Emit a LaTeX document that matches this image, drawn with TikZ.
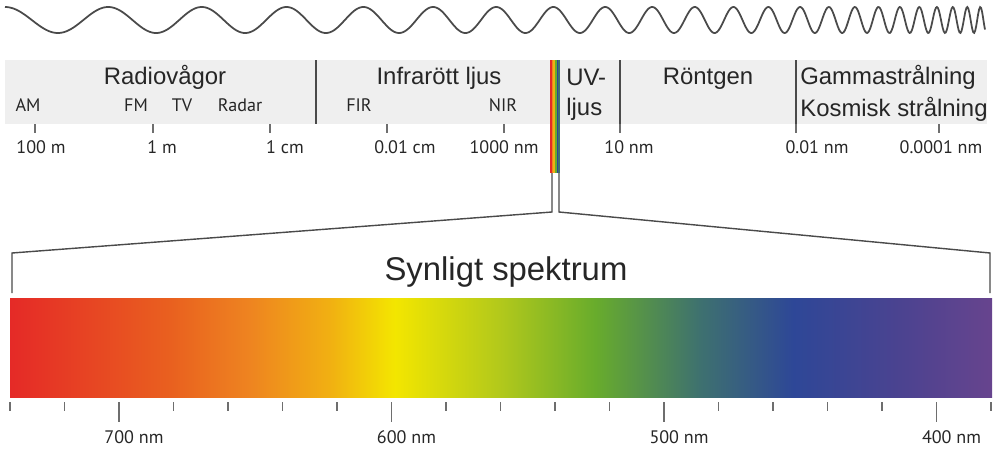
\documentclass[tikz,border=0pt]{standalone}
\usepackage{fontspec}
\setmainfont{Liberation Sans}
\newfontfamily\labelfont{PT Sans}
\usetikzlibrary{positioning}

\definecolor{bandgray}{HTML}{EFEFEF}
\definecolor{linegray}{HTML}{4A4A4A}
\definecolor{tickgray}{HTML}{6E6E6E}
\definecolor{textgray}{HTML}{262626}
\definecolor{sred}{HTML}{E52A27}
\definecolor{sredorange}{HTML}{E9601F}
\definecolor{sorange}{HTML}{EE8420}
\definecolor{samber}{HTML}{F1B012}
\definecolor{syellow}{HTML}{F3E600}
\definecolor{slime}{HTML}{B3C91B}
\definecolor{sgreen}{HTML}{68AC2C}
\definecolor{steal}{HTML}{3E716F}
\definecolor{sblue}{HTML}{2E4797}
\definecolor{sindigo}{HTML}{4B4390}
\definecolor{sviolet}{HTML}{67448E}

\pgfdeclarehorizontalshading{visible}{100bp}{color(0bp)=(sred); color(25bp)=(sred);
  color(33.15bp)=(sredorange); color(37.2bp)=(sorange); color(41.3bp)=(samber);
  color(44.6bp)=(syellow); color(49.9bp)=(slime); color(54.8bp)=(sgreen);
  color(60.1bp)=(steal); color(64.9bp)=(sblue); color(70.3bp)=(sindigo);
  color(75bp)=(sviolet); color(100bp)=(sviolet)}

\begin{document}
\begin{tikzpicture}[x=0.02cm, y=-0.02cm,
    title/.style={font=\fontsize{13.6}{15}\selectfont, text=textgray, inner sep=0pt, anchor=base},
    sub/.style={font=\labelfont\fontsize{10.3}{12}\selectfont, text=textgray, inner sep=0pt, anchor=base},
    divider/.style={draw=linegray, line width=0.8pt},
    tick/.style={draw=tickgray, line width=0.6pt},
    bigtick/.style={draw=tickgray, line width=1pt}]
  \useasboundingbox (0,0) rectangle (1000,453);

  % wave, wavelength getting shorter to the right
  \draw[linegray, line width=1pt] plot[domain=5:985, samples=1000]
    (\x, {20-13*cos(deg(63.9*ln(1102/(1107-\x))))});

  % band of the full spectrum
  \fill[bandgray] (5,60) rectangle (987,124);
  \draw[divider] (316,60) -- (316,124);
  \draw[divider] (620,60) -- (620,133);
  \draw[divider] (796,60) -- (796,133);

  \node[title] (radio) at (165,84) {Radiovågor};
  \node[title] (infra) at (439,84) {Infrarött ljus};
  \node[title, anchor=base west] (uv) at (566,85) {UV-};
  \node[title, anchor=base west] (uvljus) at (566,115) {ljus};
  \node[title] (xray) at (708,84) {Röntgen};
  \node[title, anchor=base west] (gamma) at (800,84) {Gammastrålning};
  \node[title, anchor=base west] (cosmic) at (800,116) {Kosmisk strålning};

  \node[sub] (am) at (28,111) {AM};
  \node[sub] (fm) at (136,111) {FM};
  \node[sub] (tv) at (182,111) {TV};
  \node[sub] (radar) at (240,111) {Radar};
  \node[sub] (fir) at (359,111) {FIR};
  \node[sub] (nir) at (503,111) {NIR};

  % wavelength scale
  \foreach \x/\lx/\t [count=\n] in {35/41/100 m, 153/162/1 m, 270/285/1 cm,
      387/405/0.01 cm, 504/504/1000 nm, 620/629/10 nm, 796/817/0.01 nm,
      939/941/0.0001 nm} {
    \draw[tick] (\x,124) -- (\x,133);
    \node[sub] (wl\n) at (\lx,153) {\t};
  }

  % the narrow visible part
  \foreach \c [count=\i] in {sred, sorange, samber, sgreen, sblue, steal} {
    \fill[\c] ({550+(\i-1)*10/6},60) rectangle ({550+\i*10/6},173);
  }
  \coordinate (visl) at (552,173);
  \coordinate (visr) at (559,173);
  \coordinate (neckl) at (552,212);
  \coordinate (neckr) at (559,212);
  \coordinate (bracketl) at (12,253);
  \coordinate (bracketr) at (990,253);
  \coordinate (footl) at (12,293);
  \coordinate (footr) at (990,293);
  \draw[linegray, line width=0.8pt] (visl) -- (neckl) -- (bracketl) -- (footl);
  \draw[linegray, line width=0.8pt] (visr) -- (neckr) -- (bracketr) -- (footr);

  \node[font=\fontsize{18.7}{21}\selectfont, text=textgray, inner sep=0pt, anchor=base] (synligt) at (506,280) {Synligt spektrum};

  \shade[shading=visible] (10,298) rectangle (992,397);

  \foreach \i in {0,...,18} {
    \draw[bigtick] ({10+\i*54.5},402) -- ++(0,9);
  }
  \foreach \i/\nm in {2/700, 7/600, 12/500, 17/400} {
    \draw[bigtick] ({10+\i*54.5},402) -- ++(0,20);
    \node[sub] (nm\nm) at ({25+\i*54.5},443) {\nm\ nm};
  }
\end{tikzpicture}
\end{document}
